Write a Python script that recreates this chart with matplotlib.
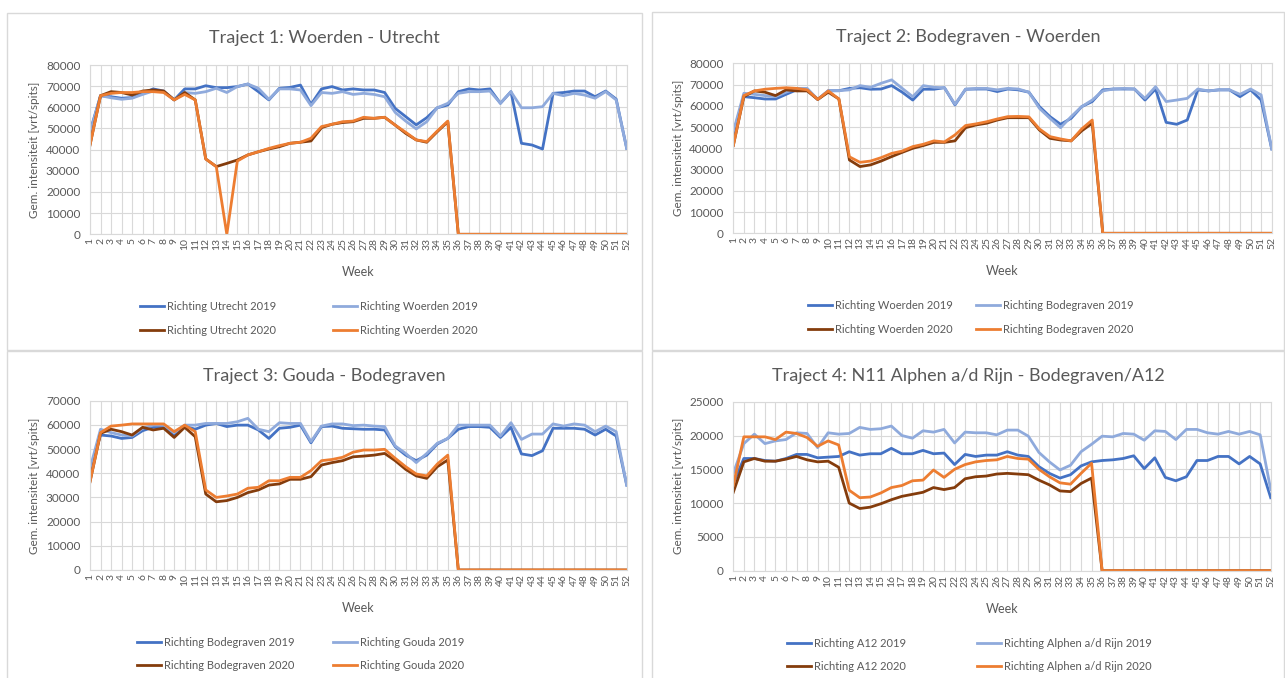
import matplotlib.pyplot as plt
from matplotlib.patches import Rectangle
from matplotlib.lines import Line2D

plt.rcParams['font.family'] = ['Lato', 'DejaVu Sans']

weeks = list(range(1, 53))
zeros_rest = [0] * 17  # week 36 t/m 52 in 2020

# Traject 1: Woerden - Utrecht
t1_utrecht_2019 = [48500, 65500, 65000, 64300, 64600, 66600, 68700, 67700, 63500, 68700,
                   68700, 70200, 69300, 69300, 69800, 71000, 67400, 63500, 69000, 69400,
                   70500, 61400, 68700, 69800, 68200, 68700, 68200, 68200, 67000, 59500,
                   55600, 51700, 55100, 59800, 61100, 67400, 68700, 68200, 68700, 61900,
                   67400, 43000, 42200, 40300, 66600, 67000, 67700, 67700, 65000, 67700,
                   63900, 40600]
t1_woerden_2019 = [48000, 65500, 64500, 63800, 64300, 66100, 67700, 67400, 63500, 67000,
                   66600, 67400, 69000, 67000, 69800, 71000, 69000, 63800, 68700, 68700,
                   68200, 60800, 67000, 66600, 67400, 66100, 66600, 66100, 65000, 57600,
                   53500, 49800, 53200, 59800, 61900, 66600, 67400, 67400, 67700, 61900,
                   67400, 59800, 59800, 60300, 66600, 65500, 66600, 65800, 64300, 67400,
                   63500, 40600]
t1_utrecht_2020 = [42200, 65500, 67400, 67000, 65800, 67700, 68200, 67700, 63500, 67000,
                   63500, 35600, 32000, 33500, 35100, 37500, 39000, 40300, 41400, 43000,
                   43500, 44100, 50400, 52000, 52800, 53200, 54800, 54800, 55300, 51600,
                   47700, 44600, 43500, 48500, 53200] + zeros_rest
t1_woerden_2020 = [42200, 65500, 66600, 67000, 67000, 67400, 67400, 67000, 63500, 66100,
                   63500, 35600, 32000, 0, 34600, 37500, 39000, 40600, 41900, 43000,
                   43500, 45400, 50900, 52000, 53200, 53500, 55300, 54800, 55300, 51600,
                   48200, 44600, 43800, 48800, 53500] + zeros_rest

# Traject 2: Bodegraven - Woerden
t2_woerden_2019 = [47000, 64300, 63800, 63200, 63200, 65400, 67500, 67500, 63000, 67100,
                   67100, 68200, 68500, 67800, 67900, 69500, 66400, 62700, 67800, 67800,
                   68500, 60400, 67800, 67900, 67900, 66700, 67900, 67500, 66400, 59600,
                   54900, 51300, 54100, 59600, 62000, 67500, 67900, 67900, 67900, 62700,
                   67900, 52200, 51300, 53300, 67500, 67000, 67500, 67500, 64300, 67500,
                   62700, 39700]
t2_bodegraven_2019 = [47800, 65900, 65400, 64800, 64300, 66400, 68200, 68200, 63000, 67100,
                      67100, 67500, 69500, 68700, 70600, 72200, 68200, 64300, 69500, 68700,
                      68500, 60700, 67800, 68200, 68200, 67500, 68200, 67900, 66400, 58800,
                      54100, 49700, 54900, 59600, 62700, 67000, 67900, 68200, 67900, 63500,
                      69000, 62000, 62700, 63500, 67900, 67000, 67500, 67500, 65400, 67900,
                      65100, 39700]
t2_woerden_2020 = [41300, 64300, 67000, 66400, 64800, 67500, 67000, 67000, 63000, 66400,
                   63200, 34500, 31400, 32200, 34000, 36100, 38100, 40000, 41300, 42800,
                   42800, 43500, 49700, 51000, 51800, 53300, 54400, 54400, 54400, 48600,
                   44700, 43900, 43500, 48200, 51800] + zeros_rest
t2_bodegraven_2020 = [41300, 64800, 67000, 67800, 68200, 68500, 68200, 67500, 63000, 67000,
                      63200, 36000, 33400, 34000, 35600, 37600, 38700, 40800, 41900, 43500,
                      43000, 46300, 50700, 51500, 52500, 53800, 54900, 55000, 54800, 49100,
                      45500, 44400, 43500, 49100, 53300] + zeros_rest

# Traject 3: Gouda - Bodegraven
t3_bodegraven_2019 = [41300, 55800, 55400, 54400, 54800, 57600, 59000, 59000, 55400, 59500,
                      58200, 59900, 60600, 59300, 59900, 59900, 57900, 54400, 58600, 59000,
                      59900, 52600, 59300, 59500, 58600, 58400, 58200, 58200, 57900, 51000,
                      47500, 45200, 47500, 52100, 54400, 58200, 59300, 59300, 59000, 54800,
                      59000, 48000, 47300, 49300, 58600, 58600, 58600, 58200, 55800, 58200,
                      55400, 35100]
t3_gouda_2019 = [42000, 58200, 56800, 55800, 55400, 58600, 59900, 59900, 56800, 59900,
                 59900, 60600, 60600, 60600, 61300, 62700, 58200, 57200, 60900, 60600,
                 60600, 53100, 59500, 60400, 60400, 59700, 59900, 59500, 59300, 51300,
                 48200, 44400, 48200, 52400, 54400, 59900, 59900, 59900, 59900, 55400,
                 60900, 54000, 56200, 56200, 60400, 59500, 60400, 59900, 57200, 59500,
                 57200, 35100]
t3_bodegraven_2020 = [36500, 56500, 58200, 57200, 55800, 59000, 57900, 58600, 54800, 59000,
                      55100, 31400, 28200, 28700, 30000, 32000, 33100, 35100, 35600, 37500,
                      37500, 38600, 43400, 44400, 45200, 46800, 47100, 47500, 48200, 45200,
                      41600, 38900, 37900, 42700, 45500] + zeros_rest
t3_gouda_2020 = [36500, 56800, 59500, 59900, 60400, 60400, 60400, 60400, 57200, 59900,
                 57200, 33100, 30000, 30600, 31400, 33800, 34200, 36900, 36900, 38300,
                 38300, 41100, 45200, 45700, 46600, 48700, 49600, 49600, 49900, 46200,
                 42700, 39700, 38900, 43800, 47500] + zeros_rest

# Traject 4: N11 Alphen a/d Rijn - Bodegraven/A12
t4_a12_2019 = [12900, 16600, 16600, 16300, 16200, 16600, 17200, 17200, 16700, 16800,
               16900, 17600, 17100, 17300, 17300, 18100, 17300, 17300, 17800, 17300,
               17400, 15700, 17200, 16900, 17100, 17100, 17600, 17100, 16900, 15400,
               14400, 13700, 14200, 15500, 16100, 16300, 16400, 16600, 17000, 15100,
               16700, 13800, 13300, 13900, 16300, 16300, 16900, 16900, 15800, 16900,
               15800, 10800]
t4_alphen_2019 = [14400, 18800, 20200, 18800, 19200, 19400, 20400, 20300, 18200, 20400,
                  20200, 20300, 21200, 20900, 21000, 21400, 20000, 19600, 20700, 20500,
                  20900, 18900, 20500, 20400, 20400, 20100, 20800, 20800, 19900, 17500,
                  16100, 14900, 15600, 17600, 18700, 19900, 19800, 20300, 20200, 19300,
                  20700, 20600, 19400, 20900, 20900, 20400, 20200, 20600, 20200, 20600,
                  20100, 12000]
t4_a12_2020 = [11600, 16100, 16600, 16200, 16200, 16500, 16900, 16400, 16100, 16200,
               15300, 10000, 9200, 9400, 9900, 10500, 11000, 11300, 11600, 12300,
               12000, 12300, 13600, 13900, 14000, 14300, 14400, 14300, 14200, 13400,
               12700, 11800, 11700, 12900, 13700] + zeros_rest
t4_alphen_2020 = [12600, 19800, 19800, 19800, 19400, 20500, 20300, 19700, 18400, 19200,
                  18600, 11900, 10800, 10900, 11500, 12300, 12600, 13300, 13400, 14900,
                  13800, 15000, 15700, 16100, 16300, 16400, 16900, 16600, 16500, 15000,
                  13900, 13000, 12800, 14400, 15900] + zeros_rest

colors = ['#4472C4', '#8FAADC', '#843C0C', '#ED7D31']
grid_c = '#D9D9D9'
text_c = '#595959'

W, H = 1285, 678
fig = plt.figure(figsize=(W / 100, H / 100), dpi=100)
fig.patch.set_facecolor('white')


def add_ax(x0, y0, x1, y1):
    return fig.add_axes([x0 / W, 1 - y1 / H, (x1 - x0) / W, (y1 - y0) / H])


panels = [
    dict(title='Traject 1: Woerden - Utrecht', box=(7, 13, 642, 350),
         plot=(90, 65, 626.7, 234.3), ymax=80000, ystep=10000,
         series=[t1_utrecht_2019, t1_woerden_2019, t1_utrecht_2020, t1_woerden_2020],
         labels=['Richting Utrecht 2019', 'Richting Woerden 2019',
                 'Richting Utrecht 2020', 'Richting Woerden 2020'],
         leg_x=(140, 333)),
    dict(title='Traject 2: Bodegraven - Woerden', box=(652, 12, 1284, 350),
         plot=(733.3, 63.3, 1271.7, 233.3), ymax=80000, ystep=10000,
         series=[t2_woerden_2019, t2_bodegraven_2019, t2_woerden_2020, t2_bodegraven_2020],
         labels=['Richting Woerden 2019', 'Richting Bodegraven 2019',
                 'Richting Woerden 2020', 'Richting Bodegraven 2020'],
         leg_x=(808, 976)),
    dict(title='Traject 3: Gouda - Bodegraven', box=(7, 351, 642, 690),
         plot=(90, 400.7, 626.7, 570), ymax=70000, ystep=10000,
         series=[t3_bodegraven_2019, t3_gouda_2019, t3_bodegraven_2020, t3_gouda_2020],
         labels=['Richting Bodegraven 2019', 'Richting Gouda 2019',
                 'Richting Bodegraven 2020', 'Richting Gouda 2020'],
         leg_x=(137, 333)),
    dict(title='Traject 4: N11 Alphen a/d Rijn - Bodegraven/A12', box=(652, 351, 1284, 690),
         plot=(733.3, 401.7, 1270.7, 570.7), ymax=25000, ystep=5000,
         series=[t4_a12_2019, t4_alphen_2019, t4_a12_2020, t4_alphen_2020],
         labels=['Richting A12 2019', 'Richting Alphen a/d Rijn 2019',
                 'Richting A12 2020', 'Richting Alphen a/d Rijn 2020'],
         leg_x=(787, 977)),
]

for p in panels:
    bx0, by0, bx1, by1 = p['box']
    fig.patches.append(Rectangle((bx0 / W, 1 - by1 / H), (bx1 - bx0) / W, (by1 - by0) / H,
                                 transform=fig.transFigure, fill=False,
                                 edgecolor=grid_c, lw=1))
    x0, y0, x1, y1 = p['plot']
    ax = add_ax(x0, y0, x1, y1)
    for vals, c in zip(p['series'], colors):
        ax.plot(weeks, vals, color=c, lw=2, solid_joinstyle='round')
    ax.set_xlim(1, 52)
    ax.set_ylim(0, p['ymax'])
    ax.set_xticks(weeks)
    ax.set_xticklabels([str(w) for w in weeks], rotation=90, fontsize=7.5, color=text_c)
    ax.set_yticks(range(0, p['ymax'] + 1, p['ystep']))
    ax.tick_params(axis='y', length=0, pad=7, labelsize=8.5, labelcolor=text_c)
    ax.tick_params(axis='x', length=0, pad=3)
    ax.grid(True, color=grid_c, lw=0.8)
    ax.set_axisbelow(True)
    for s in ax.spines.values():
        s.set_color(grid_c)
        s.set_linewidth(0.8)

    cx = (bx0 + bx1) / 2
    fig.text(cx / W, 1 - (by0 + 25) / H, p['title'], ha='center', va='center',
             fontsize=13, color=text_c)
    fig.text(((x0 + x1) / 2) / W, 1 - (y1 + 38) / H, 'Week', ha='center', va='center',
             fontsize=9, color=text_c)
    fig.text((x0 - 55) / W, 1 - ((y0 + y1) / 2) / H, 'Gem. intensiteit [vrt/spits]',
             rotation=90, ha='center', va='center', fontsize=8.5, color=text_c)

    handles = [Line2D([], [], color=c, lw=2) for c in colors]
    ly = 1 - (y1 + 67) / H
    for col, (i, j) in enumerate([(0, 2), (1, 3)]):
        fig.legend([handles[i], handles[j]], [p['labels'][i], p['labels'][j]],
                   loc='upper left', bbox_to_anchor=(p['leg_x'][col] / W, ly),
                   frameon=False, fontsize=8, handlelength=2.2,
                   handletextpad=0.2, labelspacing=1.1, borderpad=0,
                   borderaxespad=0, labelcolor=text_c)

fig.savefig('out.png', dpi=100, facecolor='white')
